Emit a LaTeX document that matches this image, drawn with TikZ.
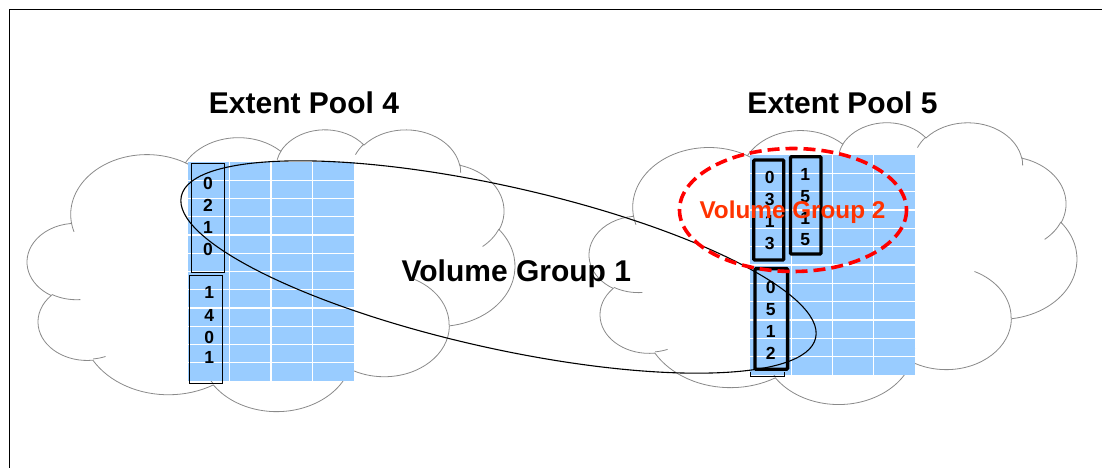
\documentclass[tikz,border=0pt]{standalone}
\usepackage{fontspec}
\setmainfont{Liberation Sans}
\definecolor{gridblue}{HTML}{99CCFF}
\definecolor{vgtwo}{HTML}{FF3300}
\definecolor{cloudgray}{HTML}{8A8A8A}
\newcommand\cloudsx{1.1282}
\newcommand\cloudsy{0.6521}
% OOXML-style arcTo (visual angles) -> TikZ parametric arc
\newcommand\ooarc[4]{%
  \pgfextra{%
    \pgfmathsetmacro\oaTs{atan2((#1)*sin(#3),(#2)*cos(#3))}%
    \pgfmathsetmacro\oaTz{atan2((#1)*sin((#3)+(#4)),(#2)*cos((#3)+(#4)))}%
    \pgfmathsetmacro\oaTe{(\oaTs)+mod((\oaTz)-(\oaTs)+720,360)}%
    \pgfmathsetmacro\oaRx{(#1)*\cloudsx}%
    \pgfmathsetmacro\oaRy{(#2)*\cloudsy}%
    \xdef\OAts{\oaTs}\xdef\OAte{\oaTe}\xdef\OArx{\oaRx}\xdef\OAry{\oaRy}%
  }%
  arc[x radius=\OArx pt, y radius=\OAry pt, start angle=\OAts, end angle=\OAte]%
}
\newcommand\drawcloud[2]{%
\begin{scope}[shift={(#1,#2)},x=\cloudsx pt,y=\cloudsy pt]
 \filldraw[cloudline,fill=white] (39.00,143.70)
  \ooarc{67.53}{91.90}{-190.4875}{123.7805}
  \ooarc{53.33}{72.67}{-144.1024}{89.9452}
  \ooarc{43.65}{59.45}{-145.8079}{99.7230}
  \ooarc{48.57}{65.95}{-130.9861}{117.2417}
  \ooarc{53.33}{72.73}{-78.7089}{109.0269}
  \ooarc{67.75}{92.20}{-46.2673}{130.2690}
  \ooarc{57.85}{78.67}{0.6250}{114.0333}
  \ooarc{67.52}{92.15}{22.4516}{115.1726}
  \ooarc{77.20}{105.43}{66.2426}{75.7110}
  \ooarc{43.60}{59.18}{-274.9421}{146.7356}
  \ooarc{43.45}{59.45}{-246.8285}{152.5189}
  -- cycle;
 \draw[cloudline] (46.93,261.77) \ooarc{43.45}{59.45}{86.7420}{26.4295}
   (69.28,348.99) \ooarc{43.60}{59.18}{73.6105}{11.4475}
   (164.78,390.90) \ooarc{67.52}{92.15}{137.6242}{14.0811}
   (288.27,347.51) \ooarc{67.52}{92.15}{6.4533}{15.9984}
   (341.29,229.54) \ooarc{57.85}{78.67}{-70.2924}{70.9174}
   (417.98,153.54) \ooarc{53.33}{72.73}{30.3180}{27.7515}
   (383.24,54.26) \ooarc{48.57}{65.95}{-13.7443}{14.8589}
   (290.78,39.52) \ooarc{48.57}{65.95}{-149.1815}{18.1954}
   (221.41,47.20) \ooarc{43.65}{59.45}{-163.4943}{17.6864}
   (140.00,51.92) \ooarc{67.53}{91.90}{-66.7070}{12.3194}
   (41.27,157.89) \ooarc{67.53}{91.90}{157.6544}{11.8582};
\end{scope}}
\begin{document}
\begin{tikzpicture}[x=1pt,y=1pt,yscale=-1,
  cloudline/.style={draw=cloudgray,line width=0.8pt},
  gridline/.style={draw=white,line width=1.1pt},
  thinbox/.style={draw=black,line width=0.9pt},
  thickbox/.style={draw=black,line width=3.3pt,rounded corners=1pt},
  digitnode/.style={inner sep=0pt,font=\bfseries\fontsize{17.5}{20}\selectfont},
  titletext/.style={inner sep=0pt,anchor=base,font=\bfseries\fontsize{30}{36}\selectfont},
  vgtwotext/.style={inner sep=0pt,anchor=base,text=vgtwo,font=\bfseries\fontsize{24.3}{29}\selectfont},
  vgone/.style={draw=black,line width=1.1pt},
  vgtwoline/.style={draw=red,line width=3.6pt,dash pattern=on 12pt off 6pt}]
\useasboundingbox (0,0) rectangle (1102,468);
% frame (left and top edges)
\draw[line width=1.2pt] (9.3,468) -- (9.3,9.3) -- (1102,9.3);
% clouds
\drawcloud{27.4}{128.9}
\drawcloud{589.4}{121.8}
% left grid (Extent Pool 4)
\fill[gridblue] (188,162) rectangle (354,381);
\foreach \i in {1,...,11} \draw[gridline] (188,{162+18.25*\i}) -- (354,{162+18.25*\i});
\foreach \xx in {229.5,271,312.5} \draw[gridline] (\xx,162) -- (\xx,381);
% right grid (Extent Pool 5)
\fill[gridblue] (750,155) rectangle (915,375);
\foreach \i in {1,...,11} \draw[gridline] (750,{155+18.333*\i}) -- (915,{155+18.333*\i});
\foreach \xx in {791.25,832.5,873.75} \draw[gridline] (\xx,155) -- (\xx,375);
% Volume Group 1 ellipse
\draw[vgone,rotate around={12.6:(498.5,267)}] (498.5,267) ellipse [x radius=325pt, y radius=81pt];
% left volume boxes
\draw[thinbox] (191,163.5) rectangle (224.5,272);
\draw[thinbox] (189,275) rectangle (222.5,383);
% right volume boxes
\draw[thickbox] (753.7,160) rectangle (783.7,260);
\draw[thickbox] (790.4,156.7) rectangle (821,254);
\draw[thickbox] (755,268.6) rectangle (787.6,369.3);
\draw[line width=0.8pt] (750.7,372) -- (750.7,376) -- (784,376) -- (784,372);
% digits
\node[digitnode] (la1) at (208,183) {0};
\node[digitnode] (la2) at (208,205) {2};
\node[digitnode] (la3) at (208,227.3) {1};
\node[digitnode] (la4) at (208,249) {0};
\node[digitnode] (lb1) at (209.3,292.5) {1};
\node[digitnode] (lb2) at (209.3,315) {4};
\node[digitnode] (lb3) at (209.3,337) {0};
\node[digitnode] (lb4) at (209.3,357.5) {1};
\node[digitnode] (ra1) at (769.7,177.7) {0};
\node[digitnode] (ra2) at (769.7,199.5) {3};
\node[digitnode] (ra3) at (769.7,221.5) {1};
\node[digitnode] (ra4) at (769.7,243) {3};
\node[digitnode] (rb1) at (805.3,174) {1};
\node[digitnode] (rb2) at (805.3,196.5) {5};
\node[digitnode] (rb3) at (805.3,218.3) {1};
\node[digitnode] (rb4) at (805.3,240) {5};
\node[digitnode] (rc1) at (770.7,287.7) {0};
\node[digitnode] (rc2) at (770.7,309.7) {5};
\node[digitnode] (rc3) at (770.7,331.5) {1};
\node[digitnode] (rc4) at (770.7,353.3) {2};
% Volume Group 2
\draw[vgtwoline] (793,210) ellipse [x radius=113.5pt, y radius=61.5pt];
\node[vgtwotext] (vg2) at (792.5,218.3) {Volume Group 2};
% titles
\node[titletext] (ep4) at (304,113.3) {Extent Pool 4};
\node[titletext] (ep5) at (842.5,113.3) {Extent Pool 5};
\node[titletext] (vg1) at (516.3,281) {Volume Group 1};
\end{tikzpicture}
\end{document}
